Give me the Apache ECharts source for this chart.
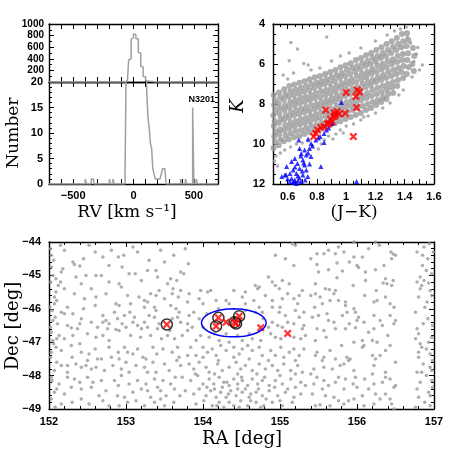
<!DOCTYPE html>
<html>
<head>
<meta charset="utf-8">
<title>NGC 3201 field</title>
<script src="https://cdn.jsdelivr.net/npm/echarts@6.0.0/dist/echarts.min.js"></script>
</head>
<body style="margin:0">
<div id="main" style="width:458px;height:458px;"></div>
<script>
// RV histogram, 10 km/s bins (left edges) and counts
const rvBinLeft = [-400, -350, -340, -200, -170,
  -70, -60, -50, -40, -30, -20, -10, 0, 10, 20, 30, 40, 50, 60, 70, 80, 90, 100,
  110, 120, 130, 140, 150, 160, 170, 180, 190, 200, 210, 220, 230, 240, 250, 260,
  390, 430, 490, 520];
const rvBinCount = [1, 1, 1, 1, 1,
  2, 25, 30, 380, 400, 740, 760, 830, 820, 750, 740, 510, 500, 270, 260, 95, 90, 30,
  18, 13, 11, 8, 7, 3, 2, 1, 1, 1, 1, 1, 2, 3, 3, 3,
  1, 1, 15, 1];

// labelled tick values
const rvTicks = [-500, 0, 500];
const jkTicks = [0.6, 0.8, 1, 1.2, 1.4, 1.6];

// CMD: field stars (grey), blue triangles, red crosses  [J-K, K]
const cmdField = [
  [0.505,7.55],[0.514,7.82],[0.508,8.05],[0.517,8.31],[0.503,8.58],[0.512,8.86],[0.506,9.1],[0.518,9.37],[0.509,9.62],[0.515,9.9],[0.504,10.2],
  [0.541,7.42],[0.55,7.68],[0.538,7.96],[0.548,8.2],[0.543,8.47],[0.553,8.72],[0.54,8.95],[0.549,9.26],[0.544,9.5],[0.552,9.77],[0.539,10.06],
  [0.577,7.26],[0.585,7.52],[0.573,7.79],[0.583,8.06],[0.579,8.3],[0.588,8.56],[0.575,8.8],[0.584,9.06],[0.58,9.31],[0.587,9.57],[0.574,9.86],
  [0.612,7.1],[0.62,7.36],[0.608,7.64],[0.618,7.9],[0.613,8.16],[0.622,8.41],[0.61,8.69],[0.619,8.95],[0.614,9.2],[0.621,9.46],[0.609,9.76],
  [0.646,7.02],[0.655,7.29],[0.643,7.56],[0.653,7.81],[0.648,8.06],[0.657,8.31],[0.644,8.56],[0.654,8.85],[0.649,9.1],[0.656,9.36],[0.645,9.66],
  [0.681,6.94],[0.69,7.2],[0.678,7.46],[0.688,7.7],[0.683,7.96],[0.692,8.24],[0.679,8.5],[0.689,8.76],[0.684,9.01],[0.691,9.3],[0.68,9.6],
  [0.716,6.86],[0.725,7.11],[0.713,7.39],[0.723,7.65],[0.718,7.9],[0.727,8.16],[0.714,8.41],[0.724,8.7],[0.719,8.95],[0.726,9.21],[0.715,9.5],
  [0.751,6.76],[0.76,7.01],[0.748,7.3],[0.758,7.55],[0.753,7.8],[0.762,8.06],[0.749,8.35],[0.759,8.6],[0.754,8.86],[0.761,9.11],[0.75,9.4],
  [0.786,6.66],[0.795,6.94],[0.783,7.2],[0.793,7.46],[0.788,7.71],[0.797,8.0],[0.784,8.25],[0.794,8.51],[0.789,8.76],[0.796,9.05],[0.785,9.35],
  [0.821,6.6],[0.83,6.86],[0.818,7.1],[0.828,7.36],[0.823,7.65],[0.832,7.9],[0.819,8.16],[0.829,8.41],[0.824,8.7],[0.831,8.96],[0.82,9.25],
  [0.856,6.5],[0.865,6.76],[0.853,7.01],[0.863,7.3],[0.858,7.55],[0.867,7.81],[0.854,8.06],[0.864,8.35],[0.859,8.6],[0.866,8.86],[0.855,9.15],
  [0.891,6.4],[0.9,6.66],[0.888,6.95],[0.898,7.2],[0.893,7.46],[0.902,7.71],[0.889,7.96],[0.899,8.25],[0.894,8.5],[0.901,8.76],[0.89,9.05],
  [0.926,6.3],[0.935,6.56],[0.923,6.85],[0.933,7.1],[0.928,7.36],[0.937,7.6],[0.924,7.86],[0.934,8.1],[0.929,8.4],[0.936,8.66],[0.925,8.95],
  [0.961,6.16],[0.97,6.45],[0.958,6.7],[0.968,6.96],[0.963,7.2],[0.972,7.5],[0.959,7.76],[0.969,8.0],[0.964,8.26],[0.971,8.55],[0.96,8.86],
  [0.996,6.06],[1.005,6.3],[0.993,6.6],[1.003,6.86],[0.998,7.1],[1.007,7.36],[0.994,7.6],[1.004,7.9],[0.999,8.16],[1.006,8.4],[0.995,8.75],
  [1.031,5.96],[1.04,6.2],[1.028,6.5],[1.038,6.76],[1.033,7.0],[1.042,7.26],[1.029,7.5],[1.039,7.8],[1.034,8.06],[1.041,8.3],[1.03,8.65],
  [1.066,5.8],[1.075,6.1],[1.063,6.36],[1.073,6.6],[1.068,6.9],[1.077,7.16],[1.064,7.4],[1.074,7.66],[1.069,7.95],[1.076,8.2],[1.065,8.55],
  [1.101,5.7],[1.11,5.96],[1.098,6.25],[1.108,6.5],[1.103,6.76],[1.112,7.0],[1.099,7.3],[1.109,7.56],[1.104,7.8],[1.111,8.1],[1.1,8.45],
  [1.136,5.56],[1.145,5.85],[1.133,6.1],[1.143,6.4],[1.138,6.66],[1.147,6.9],[1.134,7.16],[1.144,7.45],[1.139,7.7],[1.146,8.0],[1.135,8.3],
  [1.171,5.45],[1.18,5.7],[1.168,6.0],[1.178,6.26],[1.173,6.5],[1.182,6.8],[1.169,7.05],[1.179,7.3],[1.174,7.6],[1.181,7.9],[1.17,8.2],
  [1.206,5.3],[1.215,5.6],[1.203,5.86],[1.213,6.1],[1.208,6.4],[1.217,6.66],[1.204,6.9],[1.214,7.2],[1.209,7.5],[1.216,7.8],[1.205,8.05],
  [1.241,5.16],[1.25,5.45],[1.238,5.7],[1.248,6.0],[1.243,6.26],[1.252,6.55],[1.239,6.8],[1.249,7.1],[1.244,7.4],[1.251,7.66],[1.24,7.9],
  [1.276,5.0],[1.285,5.3],[1.273,5.6],[1.283,5.86],[1.278,6.15],[1.287,6.4],[1.274,6.7],[1.284,7.0],[1.279,7.26],[1.286,7.5],[1.275,7.75],
  [1.311,4.86],[1.32,5.15],[1.308,5.45],[1.318,5.76],[1.313,6.0],[1.322,6.3],[1.309,6.6],[1.319,6.9],[1.314,7.16],[1.321,7.45],
  [1.346,4.7],[1.355,5.0],[1.343,5.3],[1.353,5.6],[1.348,5.9],[1.357,6.2],[1.344,6.5],[1.354,6.8],[1.349,7.1],
  [1.381,4.5],[1.39,4.86],[1.378,5.16],[1.388,5.5],[1.383,5.8],[1.392,6.1],[1.379,6.4],[1.389,6.7],
  [1.416,4.46],[1.425,4.8],[1.413,5.1],[1.423,5.46],[1.418,5.8],[1.427,6.16],[1.414,6.5],
  [1.456,5.2],[1.465,5.6],[1.452,6.0],[1.462,6.35]
];
const cmdFieldSparse = [
  [0.622,4.92],[0.667,5.25],[0.867,4.65],[0.611,5.84],[0.71,5.98],[0.57,6.55],[0.64,6.45],[0.6,6.75],[0.76,6.3],[0.74,6.05],
  [0.82,6.2],[0.9,5.85],[0.96,5.6],[1.02,5.45],[1.1,5.2],[1.2,4.85],[1.28,4.55],[1.33,4.35],[1.37,4.25],[1.41,4.15],
  [1.489,5.17],[1.418,4.67],[1.462,5.87],[1.5,6.3],[1.52,6.05],[1.45,6.65],[1.48,5.5],[1.44,4.95],[1.39,7.3],[1.36,7.55],
  [1.3,7.95],[1.25,8.2],[1.2,8.45],[1.15,8.6],[1.1,8.8],[1.05,9.0],[1.0,9.1],[0.96,9.3],[0.93,9.5],[0.88,9.6],
  [0.85,9.8],[0.83,10.0],[0.81,10.25],[0.77,10.1],[0.74,9.85],[0.7,9.95],[0.66,10.0],[0.62,10.15],[0.58,10.3],[0.55,10.45],
  [0.52,10.6],[0.51,10.85],[0.53,11.1],[0.98,9.45],[0.91,9.75],[1.12,8.65]
];
const cmdBlue = [
  [0.967,7.92],[0.904,8.97],[0.849,9.47],[0.822,9.63],[0.793,9.8],[0.76,9.97],[0.676,9.8],[0.849,9.92],[0.749,10.22],[0.716,10.3],
  [0.682,10.22],[0.693,10.47],[0.727,10.55],[0.76,10.63],[0.649,10.72],[0.704,10.8],[0.627,10.88],[0.667,10.97],[0.716,11.05],[0.827,11.13],
  [0.593,11.13],[0.682,11.22],[0.727,11.3],[0.638,11.3],[0.616,11.47],[0.582,11.55],[0.56,11.63],[0.66,11.47],[0.704,11.55],[0.738,11.63],
  [0.627,11.72],[0.649,11.8],[0.671,11.85],[0.616,11.88],[0.638,11.93],[0.66,11.97],[0.693,11.88],[1.071,11.88],[0.77,10.1],[0.74,10.45],
  [0.71,10.95],[0.67,11.6],[0.65,11.15],[0.7,11.35],[0.6,11.75],[0.72,11.8],[0.68,11.7],[0.589,11.54],[0.81,9.7],[0.865,9.3],
  [0.88,9.2],[0.74,9.75],[0.69,10.6],[0.75,11.0],[0.64,11.9]
];
const cmdRed = [
  [1.0,7.42],[1.076,7.3],[1.09,7.4],[1.067,7.63],[1.071,8.18],[0.993,8.47],[0.86,8.3],[0.938,8.38],[0.916,8.63],[0.893,8.75],
  [0.904,8.88],[0.882,8.97],[0.849,9.13],[0.827,9.18],[0.804,9.3],[0.793,9.47],[0.778,9.63],[1.049,9.63],[0.927,8.55],[0.95,8.5],
  [0.87,9.0],[0.92,8.45]
];

// sky map [RA, Dec]
const skyField = [
  [152.15,-44.10],[152.52,-44.10],[152.81,-44.25],[152.97,-44.40],[153.09,-44.15],[153.15,-44.30],[152.03,-44.40],[152.31,-44.60],[152.33,-44.67],[152.40,-44.72],
  [152.18,-44.80],[152.16,-44.90],[152.78,-44.70],[152.90,-44.45],[153.04,-44.95],[153.12,-44.95],[153.28,-44.85],[153.39,-44.85],[153.41,-45.05],[153.62,-44.40],
  [153.54,-45.25],[153.61,-45.40],[152.05,-45.0],[152.15,-45.2],[152.12,-45.3],[152.42,-45.25],[152.48,-45.0],[152.61,-45.0],[152.68,-45.0],[152.78,-45.2],
  [152.91,-45.25],[152.94,-45.35],[152.55,-45.4],[152.74,-45.55],[152.33,-45.55],[152.46,-45.7],[152.09,-45.5],[152.07,-45.65],[152.07,-45.85],[152.01,-45.95],
  [152.24,-45.95],[152.61,-45.65],[152.87,-45.85],[152.91,-45.9],[153.02,-45.6],[153.06,-45.85],[153.17,-45.65],[153.24,-45.75],[153.28,-45.8],[153.32,-45.55],
  [153.39,-45.6],[153.43,-45.45],[153.24,-45.95],[153.37,-45.95],[153.50,-45.7],[153.39,-46.05],[152.16,-46.1],[152.2,-46.15],[152.31,-46.15],[152.42,-46.3],
  [152.05,-46.35],[152.11,-46.45],[152.24,-46.5],[152.29,-46.57],[152.37,-46.6],[152.55,-46.4],[152.63,-46.55],[152.70,-46.4],[152.74,-46.35],[152.78,-46.45],
  [152.76,-46.6],[152.85,-46.1],[152.89,-46.3],[152.98,-46.2],[153.0,-46.55],[153.09,-46.4],[153.11,-46.25],[153.15,-46.5],[153.2,-46.6],[153.24,-46.4],
  [153.28,-46.55],[153.30,-46.2],[153.37,-46.25],[153.43,-46.45],[153.41,-46.6],[152.87,-46.62],[152.91,-46.65],[152.5,-46.75],[152.03,-46.7],[152.13,-46.8],
  [152.31,-46.8],[152.61,-46.85],[152.70,-46.8],[152.78,-46.95],[153.06,-46.8],[153.19,-46.85],[153.32,-46.8],[153.46,-46.9],[153.54,-46.8],[152.05,-46.95],
  [152.09,-47.15],[152.03,-47.3],[152.16,-47.25],[152.29,-47.1],[152.42,-47.3],[152.52,-47.35],[152.63,-47.5],[152.68,-47.5],[152.78,-47.15],[152.81,-47.45],
  [152.91,-47.5],[152.98,-47.15],[153.02,-47.3],[153.09,-47.35],[153.22,-47.45],[153.26,-47.5],[153.35,-47.15],[153.48,-47.2],[153.50,-47.65],[152.16,-47.7],
  [152.24,-47.7],[152.35,-47.65],[152.42,-47.75],[152.48,-47.7],[152.55,-47.8],[152.61,-47.75],[152.72,-47.85],[152.83,-47.7],[152.94,-47.8],[153.04,-47.9],
  [153.13,-47.7],[153.24,-47.75],[153.28,-47.9],[153.39,-47.9],[152.07,-47.85],[152.24,-47.9],[152.03,-48.05],[152.13,-48.25],[152.24,-48.05],[152.33,-48.1],
  [152.50,-48.05],[152.57,-48.2],[152.68,-48.15],[152.85,-48.15],[152.94,-48.0],[153.04,-48.25],[153.15,-48.15],[153.26,-48.25],[153.37,-48.1],[153.48,-48.15],
  [153.58,-48.25],[152.07,-48.5],[152.2,-48.55],[152.29,-48.35],[152.42,-48.4],[152.55,-48.35],[152.74,-48.45],[152.89,-48.6],[152.98,-48.65],[153.09,-48.5],
  [153.2,-48.4],[153.28,-48.45],[153.32,-48.65],[153.41,-48.35],[153.52,-48.6],[153.63,-48.4],[152.16,-48.85],[152.42,-48.7],[152.52,-48.85],[152.7,-48.75],
  [152.78,-48.9],[152.91,-48.9],[153.02,-48.8],[153.13,-48.75],[153.24,-48.9],[153.37,-48.8],[153.5,-48.9],
  [153.77,-44.2],[153.81,-44.65],[153.71,-44.9],[153.75,-44.95],[155.16,-44.05],[155.2,-44.1],[155.07,-44.5],[154.94,-44.4],[155.18,-44.7],[155.03,-45.15],
  [155.12,-45.25],[153.71,-45.45],[153.82,-45.55],[153.8,-45.8],[153.97,-45.45],[154.06,-45.5],[154.1,-45.45],[153.95,-45.7],[154.17,-45.75],[154.3,-45.75],
  [154.34,-45.85],[154.51,-45.65],[154.55,-45.5],[154.68,-45.3],[154.71,-45.4],[154.73,-45.35],[154.81,-45.6],[154.94,-45.3],[154.99,-45.4],[154.9,-45.75],
  [155.03,-45.7],[155.18,-45.7],[155.23,-45.85],[154.66,-45.75],[155.29,-45.45],[154.4,-45.45],[153.69,-46.1],[153.67,-46.25],[153.71,-46.4],[153.8,-46.45],
  [153.82,-46.2],[153.88,-46.1],[153.86,-46.55],[153.8,-46.65],[153.73,-46.8],[153.97,-46.8],[154.08,-46.85],[153.91,-46.95],[154.55,-46.05],[154.73,-45.95],
  [154.77,-46.1],[154.9,-45.95],[154.99,-46.1],[155.07,-46.2],[155.2,-46.05],[155.25,-46.25],[154.9,-46.4],[154.97,-46.5],[155.03,-46.55],[155.1,-46.4],
  [155.18,-46.45],[155.29,-46.6],[154.88,-46.75],[154.94,-46.85],[155.01,-46.9],[155.18,-46.85],[155.27,-46.9],[154.21,-46.95],[154.34,-47.0],[154.51,-46.95],
  [154.64,-46.9],[154.75,-46.95],[153.67,-47.15],[153.69,-47.45],[153.84,-47.15],[153.8,-47.4],[153.91,-47.4],[154.0,-47.15],[154.06,-47.3],[154.12,-47.2],
  [154.17,-47.4],[154.23,-47.1],[154.3,-47.25],[154.4,-47.15],[154.47,-47.35],[154.51,-47.2],[154.58,-47.1],[154.64,-47.25],[154.73,-47.15],[154.77,-47.4],
  [154.88,-47.25],[154.94,-47.4],[155.01,-47.15],[155.12,-47.3],[155.18,-47.2],[155.25,-47.4],[155.31,-47.2],[153.71,-47.7],[153.82,-47.65],[153.88,-47.8],
  [153.95,-47.6],[154.04,-47.75],[154.08,-47.9],[154.19,-47.65],[154.25,-47.85],[154.34,-47.75],[154.43,-47.6],[154.49,-47.8],[154.55,-47.7],[154.64,-47.85],
  [154.73,-47.65],[154.81,-47.8],[154.9,-47.7],[154.97,-47.85],[155.05,-47.65],[155.14,-47.85],[155.23,-47.7],[155.29,-47.9],[153.73,-48.05],[153.84,-48.15],
  [153.93,-48.0],[154.0,-48.25],[154.08,-48.1],[154.14,-48.25],[154.21,-48.05],[154.27,-48.2],[154.34,-48.3],[154.4,-48.1],[154.45,-48.25],[154.51,-48.15],
  [154.58,-48.3],[154.64,-48.1],[154.71,-48.25],[154.77,-48.15],[154.86,-48.3],[154.94,-48.15],[155.03,-48.25],[155.14,-48.1],[155.2,-48.35],[155.27,-48.2],
  [153.77,-48.45],[153.88,-48.55],[153.95,-48.4],[154.04,-48.6],[154.1,-48.45],[154.17,-48.65],[154.23,-48.5],[154.3,-48.65],[154.36,-48.45],[154.43,-48.6],
  [154.51,-48.5],[154.6,-48.65],[154.69,-48.5],[154.77,-48.6],[154.86,-48.45],[154.97,-48.6],[155.07,-48.5],[155.18,-48.65],[155.27,-48.55],[153.91,-48.85],
  [154.01,-48.75],[154.12,-48.9],[154.21,-48.8],[154.27,-48.95],[154.34,-48.8],[154.4,-48.9],[154.49,-48.75],[154.58,-48.9],[154.69,-48.8],[154.79,-48.9],
  [154.9,-48.8],[155.03,-48.9],[155.16,-48.8],
  [155.76,-44.15],[155.48,-44.35],[155.57,-44.35],[155.63,-44.25],[155.72,-44.35],[155.83,-44.3],[155.96,-44.0],[156.24,-44.0],[156.29,-44.1],[156.44,-44.3],
  [156.47,-44.36],[156.45,-44.5],[156.87,-44.15],[156.94,-44.05],[156.85,-44.4],[155.48,-44.67],[155.74,-44.63],[155.96,-44.45],[156.07,-44.45],[156.0,-44.7],
  [156.02,-44.76],[156.24,-44.83],[156.11,-44.9],[155.81,-44.87],[155.63,-44.83],[156.85,-44.7],[156.97,-44.95],[155.74,-45.07],[155.46,-45.25],[155.59,-45.4],
  [155.64,-45.42],[155.72,-45.45],[155.7,-45.55],[155.52,-45.65],[155.65,-45.75],[155.46,-45.55],[155.55,-45.85],[155.76,-45.75],[155.85,-45.8],[156.11,-45.15],
  [156.37,-45.1],[156.39,-45.25],[156.34,-45.23],[156.45,-45.3],[156.47,-45.15],[156.22,-45.8],[156.26,-45.75],[156.43,-45.85],[156.37,-45.65],[156.82,-45.05],
  [156.87,-45.15],[156.93,-45.23],[156.82,-45.4],[156.8,-45.65],[156.91,-45.8],[156.97,-45.6],[156.84,-45.3],[155.31,-46.1],[155.5,-46.2],[155.61,-46.15],
  [155.63,-46.35],[155.81,-46.2],[155.87,-46.1],[155.96,-46.0],[155.98,-46.1],[156.02,-46.25],[156.0,-46.35],[156.09,-46.4],[155.85,-45.9],[156.22,-46.2],
  [156.3,-46.35],[156.33,-46.5],[156.43,-46.2],[156.48,-46.45],[156.22,-46.6],[155.48,-46.6],[155.57,-46.65],[155.72,-46.6],[155.85,-46.6],[155.98,-46.57],
  [155.31,-46.5],[155.33,-46.8],[155.46,-46.95],[155.96,-47.0],[156.07,-46.95],[156.2,-46.95],[156.26,-47.0],[156.78,-46.6],[156.8,-46.75],[156.82,-47.05],
  [156.97,-46.85],[156.93,-47.0],[155.42,-46.25],[155.48,-47.3],[155.46,-47.4],[155.57,-47.45],[155.55,-47.55],[155.72,-47.5],[155.87,-47.45],[155.91,-47.5],
  [155.89,-47.55],[156.07,-47.15],[156.09,-47.1],[156.2,-47.4],[156.24,-47.5],[156.37,-47.25],[156.43,-47.1],[156.8,-47.3],[156.84,-47.15],[156.95,-47.35],
  [156.8,-47.45],[155.44,-47.8],[155.57,-47.75],[155.68,-47.8],[155.78,-47.7],[155.83,-47.65],[155.96,-47.85],[156.22,-47.7],[156.37,-47.9],[156.78,-47.9],
  [156.84,-47.9],[156.95,-47.75],[156.97,-47.85],[155.33,-48.3],[155.44,-48.25],[155.48,-48.05],[155.57,-48.15],[155.63,-48.3],[155.72,-48.2],[155.76,-48.05],
  [155.85,-48.1],[155.98,-48.05],[156.0,-48.35],[155.83,-48.4],[156.2,-47.95],[156.22,-48.25],[156.33,-48.2],[156.37,-48.05],[156.43,-48.1],[156.48,-48.35],
  [156.82,-48.2],[156.97,-48.15],[156.93,-48.5],[156.95,-48.6],[156.8,-48.65],[155.42,-48.55],[155.59,-48.6],[155.7,-48.65],[155.76,-48.75],[155.83,-48.85],
  [155.89,-48.75],[155.96,-48.7],[156.07,-48.6],[156.24,-48.55],[156.37,-48.55],[156.43,-48.7],[155.46,-48.9],[155.52,-48.87],[155.65,-48.9],[156.09,-48.9],
  [156.22,-48.85],[156.48,-49.0],[156.95,-48.9],
  [152.02,-44.2],[152.06,-44.55],[152.03,-44.75],[152.09,-45.1],[152.02,-45.2],[152.1,-45.75],[152.04,-46.05],[152.08,-46.25],[152.02,-46.55],[152.1,-46.9],
  [152.06,-47.05],[152.02,-47.45],[152.1,-47.6],[152.04,-48.15],[152.1,-48.4],[152.03,-48.7],[152.08,-48.95],
  [153.58,-45.1],[153.66,-45.15],[153.6,-45.55],[153.68,-45.65],[153.58,-45.9],[153.65,-46.0],[153.6,-46.3],[153.57,-46.65],[153.63,-46.9],[153.6,-47.3],
  [153.66,-47.55],[153.56,-47.85],[153.64,-48.05],[153.7,-48.6],[153.62,-48.8],
  [154.05,-48.35],[154.15,-48.4],[154.25,-48.35],[154.33,-48.55],[154.45,-48.4],[154.55,-48.4],[154.62,-48.55],[154.72,-48.4],[154.82,-48.7],[154.93,-48.35],
  [154.18,-48.9],[154.47,-48.95],[154.62,-48.75],[154.75,-48.95],[154.31,-48.2],[154.5,-48.05],[154.8,-48.05],[155.1,-48.4],[155.0,-48.75],
  [156.78,-44.3],[156.92,-44.5],[156.99,-44.3],[156.9,-44.85],[156.78,-45.2],[156.95,-45.45],[156.88,-45.95],[156.76,-46.1],[156.92,-46.3],[156.98,-46.5],
  [156.86,-46.45],[156.76,-46.9],[156.9,-47.2],[156.98,-47.55],[156.86,-47.65],[156.9,-48.0],[156.78,-48.4],[156.98,-48.35],[156.88,-48.8],[156.76,-48.95],
  [152.6,-44.3],[152.7,-44.45],[152.45,-44.5],[152.2,-44.25],[153.3,-44.55],[153.45,-44.25],[153.5,-44.6],[152.95,-44.75],[153.2,-45.15],[152.35,-45.05],
  [152.2,-45.4],[152.6,-45.9],[152.45,-46.0],[152.7,-46.2],[152.95,-46.45],[153.05,-46.1],[152.4,-46.45],[152.2,-46.9],[152.4,-47.05],[152.6,-47.2],
  [152.9,-47.3],[153.15,-47.2],[153.4,-47.35],[152.3,-47.45],[152.5,-47.55],[153.0,-47.6],[153.35,-47.6],[152.9,-48.3],[152.4,-48.2],[153.45,-48.45],
  [152.65,-48.6],[152.3,-48.8],[153.45,-48.7],
  [154.0,-45.85],[154.2,-46.0],[154.05,-46.15],[153.95,-46.3],[154.0,-46.55],[154.15,-46.75],[154.3,-46.75],[154.45,-46.8],[154.6,-46.75],[154.68,-46.1],
  [154.78,-46.3],[154.85,-46.55],[154.55,-45.85],[154.9,-45.2],[154.85,-45.05],[155.1,-45.55],[155.25,-45.6],[155.0,-45.95],[154.2,-47.55],[154.4,-47.45],
  [154.6,-47.5],[154.85,-47.55],[155.05,-47.45],[155.2,-47.55],[154.0,-47.45],[153.9,-47.95],[154.15,-47.95],[154.45,-47.95],[154.7,-47.95],[155.0,-48.0],
  [155.2,-47.95],
  [155.4,-44.5],[155.5,-44.9],[155.9,-44.6],[156.15,-44.2],[156.35,-44.7],[156.5,-44.4],[155.4,-45.6],[155.95,-45.3],[156.1,-45.6],[156.25,-45.45],
  [156.48,-45.95],[155.45,-45.95],[155.7,-46.4],[155.9,-46.45],[156.15,-46.7],[156.4,-46.8],[156.5,-46.35],[155.6,-46.85],[155.8,-47.1],[155.65,-47.25],
  [156.3,-47.4],[156.5,-47.6],[155.4,-47.95],[155.95,-48.25],[156.1,-48.1],[156.5,-48.3],[156.3,-48.7],[155.55,-48.4],[156.15,-48.4],[156.45,-48.85]
];
const skyMembers = [[153.53,-46.47],[154.20,-46.27],[154.17,-46.52],[154.41,-46.40],[154.43,-46.44],[154.47,-46.22]];
const skyRed = [[153.53,-46.47],[154.20,-46.27],[154.17,-46.52],[154.41,-46.40],[154.43,-46.44],[154.47,-46.22],
  [154.30,-46.40],[154.75,-46.57],[155.10,-46.74]];
const clusterCentre = [154.40, -46.42];
const clusterRadius = [0.42, 0.42];

// ---------------------------------------------------------------
const chart = echarts.init(document.getElementById('main'));

const CROSS = 'path://M2,0 L5,3 L8,0 L10,2 L7,5 L10,8 L8,10 L5,7 L2,10 L0,8 L3,5 L0,2 Z';
const LABEL_FONT = {fontFamily: 'Liberation Sans', fontWeight: 'bold', fontSize: 11, color: '#000'};
const fmt = v => String(+(+v).toFixed(3)).replace('-', '\u2212');
const near = (v, list) => list.some(m => Math.abs(m - v) < 1e-6);

function stepLine(lefts, counts, w, lo, hi) {
  const pts = [[lo, 0]];
  for (let i = 0; i < lefts.length; i++) {
    const last = pts[pts.length - 1];
    if (last[0] === lefts[i]) last[1] = counts[i];
    else pts.push([lefts[i], counts[i]]);
    pts.push([lefts[i] + w, 0]);
  }
  pts.push([hi, 0]);
  return pts;
}

const grids = [
  {left: 49, top: 24, width: 169, height: 58},
  {left: 49, top: 82, width: 169, height: 102},
  {left: 273, top: 24, width: 161, height: 160},
  {left: 49, top: 242, width: 385, height: 167}
];

// each panel: range, tick interval (min is a multiple of it), minor split, label formatter
const panels = [
  {x: [-700, 700, 100, 0], y: [0, 1000, 200, 2],
    xFmt: null, yFmt: v => (v === 0 ? '' : fmt(v)), yLab: {margin: 5, fontSize: 10}},
  {x: [-700, 700, 100, 0], y: [0, 20, 5, 5],
    xFmt: v => (near(v, rvTicks) ? fmt(v) : ''), yFmt: fmt, xLab: {margin: 6}, yLab: {margin: 6}},
  {x: [0.5, 1.6, 0.1, 2], y: [4, 12, 2, 4], inverse: true,
    xFmt: v => (near(v, jkTicks) ? fmt(v) : ''), yFmt: fmt, xLab: {margin: 7}, yLab: {margin: 8}},
  {x: [152, 157, 1, 5], y: [-49, -44, 1, 5],
    xFmt: fmt, yFmt: fmt, xLab: {margin: 7}, yLab: {margin: 8}}
];

const xAxes = [], yAxes = [];
function axis(g, pos, r, formatter, lab, inverse) {
  const a = {type: 'value', gridIndex: g, position: pos, min: r[0], max: r[1], interval: r[2],
    splitLine: {show: false},
    axisLine: {show: true, onZero: false, lineStyle: {color: '#000', width: 1.4}},
    axisTick: {show: true, inside: true, length: 5, lineStyle: {color: '#000', width: 1}},
    minorTick: {show: r[3] > 0, splitNumber: r[3] || 1, length: 3, lineStyle: {color: '#000', width: 1}},
    axisLabel: formatter ? Object.assign({show: true, formatter: formatter, showMinLabel: true, showMaxLabel: true}, LABEL_FONT, lab || {})
                         : {show: false}};
  if (inverse) a.inverse = true;
  return a;
}
panels.forEach((p, g) => {
  xAxes.push(axis(g, 'bottom', p.x, p.xFmt, p.xLab));
  yAxes.push(axis(g, 'left', p.y, p.yFmt, p.yLab, p.inverse));
});
panels.forEach((p, g) => {
  xAxes.push(axis(g, 'top', p.x, null));
  yAxes.push(axis(g, 'right', p.y, null, null, p.inverse));
});

const histPts = stepLine(rvBinLeft, rvBinCount, 10, -700, 700);

const ellipse = [];
for (let i = 0; i <= 120; i++) {
  const t = i / 120 * 2 * Math.PI;
  ellipse.push([clusterCentre[0] + clusterRadius[0] * Math.cos(t), clusterCentre[1] + clusterRadius[1] * Math.sin(t)]);
}

const serif = 'DejaVu Serif';
function txt(text, x, y, size, opts) {
  return Object.assign({type: 'text', x: x, y: y, silent: true,
    style: Object.assign({text: text, font: size + 'px "' + serif + '"', fill: '#000',
      align: 'center', verticalAlign: 'middle', textAlign: 'center', textVerticalAlign: 'middle'}, (opts && opts.style) || {})},
    opts && opts.rotation ? {rotation: opts.rotation} : {});
}

chart.setOption({
  animation: false,
  grid: grids,
  xAxis: xAxes,
  yAxis: yAxes,
  graphic: [
    txt('Number', 14, 133, 17, {rotation: Math.PI / 2}),
    txt('RV [km s\u207B\u00B9]', 127, 213, 17),
    txt('K', 238, 106, 18, {rotation: Math.PI / 2, style: {font: 'italic 18px "' + serif + '"'}}),
    txt('(J\u2212K)', 354, 213, 17),
    txt('Dec [deg]', 13, 326, 18, {rotation: Math.PI / 2}),
    txt('RA [deg]', 242, 439, 18),
    txt('N3201', 215, 100, 9, {style: {font: 'bold 9px "Liberation Sans"', align: 'right', textAlign: 'right'}})
  ],
  series: [
    {type: 'line', step: 'end', xAxisIndex: 0, yAxisIndex: 0, data: histPts, symbol: 'none',
      lineStyle: {color: '#a0a0a0', width: 1.5}, clip: true},
    {type: 'line', step: 'end', xAxisIndex: 1, yAxisIndex: 1, data: histPts, symbol: 'none',
      lineStyle: {color: '#a0a0a0', width: 1.5}, clip: true},
    {type: 'scatter', xAxisIndex: 2, yAxisIndex: 2, data: cmdField, symbol: 'circle', symbolSize: 6,
      itemStyle: {color: '#9a9a9a'}, clip: true},
    {type: 'scatter', xAxisIndex: 2, yAxisIndex: 2, data: cmdFieldSparse, symbol: 'circle', symbolSize: 3.5,
      itemStyle: {color: '#9a9a9a'}, clip: true},
    {type: 'scatter', xAxisIndex: 2, yAxisIndex: 2, data: cmdBlue, symbol: 'triangle', symbolSize: 5,
      itemStyle: {color: '#0000ff'}, clip: true},
    {type: 'scatter', xAxisIndex: 2, yAxisIndex: 2, data: cmdRed, symbol: CROSS, symbolSize: 8,
      itemStyle: {color: '#ff0000'}, clip: true},
    {type: 'scatter', xAxisIndex: 3, yAxisIndex: 3, data: skyField, symbol: 'circle', symbolSize: 3.5,
      itemStyle: {color: '#9a9a9a'}, clip: true},
    {type: 'line', xAxisIndex: 3, yAxisIndex: 3, data: ellipse, symbol: 'none', smooth: false,
      lineStyle: {color: '#0000ff', width: 1.5}},
    {type: 'scatter', xAxisIndex: 3, yAxisIndex: 3, data: skyMembers, symbol: 'circle', symbolSize: 11,
      itemStyle: {color: 'rgba(0,0,0,0)', borderColor: '#000', borderWidth: 1.5}},
    {type: 'scatter', xAxisIndex: 3, yAxisIndex: 3, data: skyRed, symbol: CROSS, symbolSize: 8,
      itemStyle: {color: '#ff0000'}}
  ]
});
</script>
</body>
</html>
